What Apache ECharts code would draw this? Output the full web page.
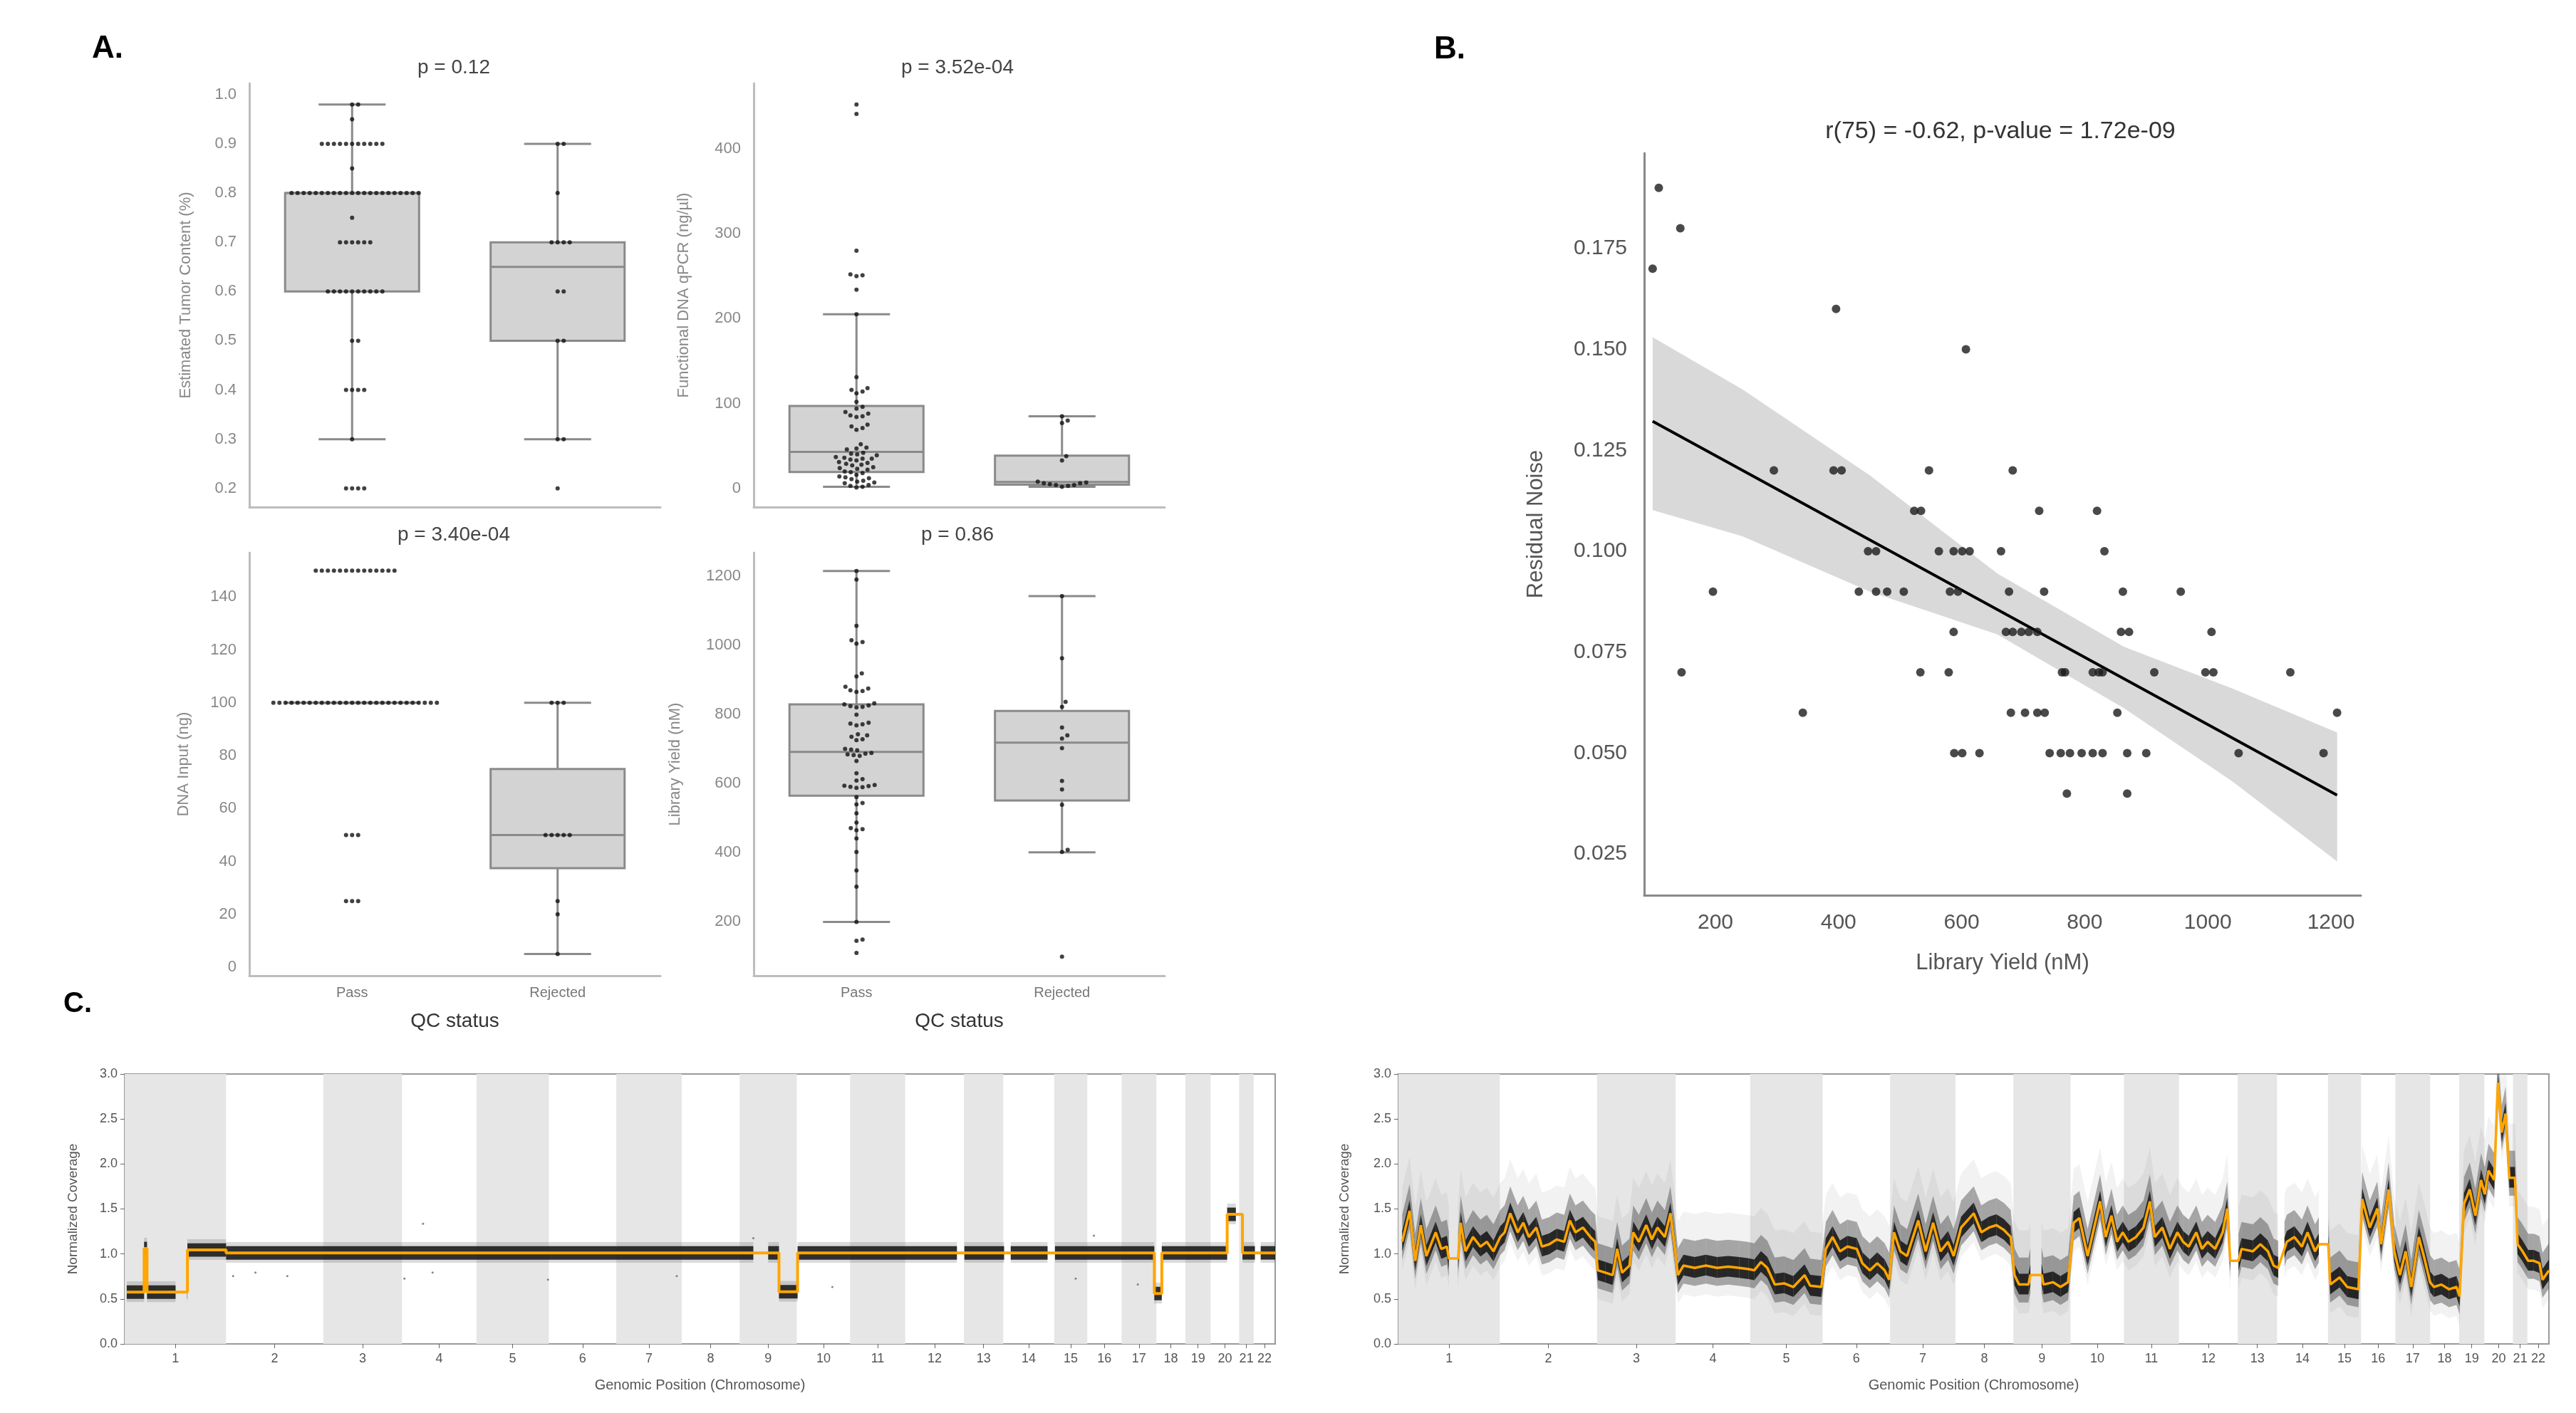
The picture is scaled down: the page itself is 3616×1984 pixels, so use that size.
<!DOCTYPE html>
<html>
<head>
<meta charset="utf-8">
<script src="https://cdn.jsdelivr.net/npm/echarts@6/dist/echarts.min.js"></script>
<style>
html, body { margin: 0; padding: 0; background: #fff; }
#main { width: 3616px; height: 1984px; }
</style>
</head>
<body>
<div id="main"></div>
<script>
var FONT = 'Liberation Sans, Arial, sans-serif';

// ---------- A. QC status box plots ----------
var groups = ['Pass', 'Rejected'];

var tumorPassLevels = [0.2, 0.3, 0.4, 0.5, 0.6, 0.7, 0.75, 0.8, 0.85, 0.9, 0.95, 0.98];
var tumorPassCounts = [4, 1, 4, 2, 10, 6, 1, 22, 1, 11, 1, 2];
var tumorRejLevels = [0.2, 0.3, 0.5, 0.6, 0.7, 0.8, 0.9];
var tumorRejCounts = [1, 2, 2, 2, 4, 1, 2];
var tumorBox = [[0.3, 0.6, 0.8, 0.8, 0.98], [0.3, 0.5, 0.65, 0.7, 0.9]];
var tumorTicks = [0.2, 0.3, 0.4, 0.5, 0.6, 0.7, 0.8, 0.9, 1.0];

var qpcrPass = [452, 441, 280, 252, 251, 250, 234, 205, 131, 118, 116, 114, 112, 102, 96, 94,
  90, 88, 86, 85, 84, 75, 73, 71, 69, 52, 48, 47, 46, 42, 41, 40, 39, 37, 36, 35, 35, 34, 33,
  31, 30, 29, 28, 27, 25, 24, 23, 22, 20, 19, 18, 16, 14, 13, 12, 11, 9, 8, 7, 6, 4, 3, 2, 1];
var qpcrRej = [85, 80, 77, 38, 33, 8, 7, 6, 6, 5, 4, 4, 3, 2];
var qpcrBox = [[2, 19.4, 43, 97, 205], [2, 4.5, 7.5, 38.5, 85]];
var qpcrTicks = [0, 100, 200, 300, 400];

var inputPassLevels = [25, 50, 100, 150];
var inputPassCounts = [3, 3, 28, 14];
var inputRej = [100, 100, 100, 50, 50, 50, 50, 50, 25, 20, 5];
var inputBox = [[100, 100, 100, 100, 100], [5, 37.5, 50, 75, 100]];
var inputTicks = [0, 20, 40, 60, 80, 100, 120, 140];

var yieldPass = [1216, 1191, 1057, 1015, 1010, 1005, 919, 910, 880, 875, 870, 868, 865, 832, 829,
  826, 824, 822, 820, 799, 776, 773, 771, 768, 742, 739, 735, 728, 725, 700, 698, 696, 688, 686,
  684, 682, 680, 665, 629, 612, 608, 595, 593, 592, 590, 589, 587, 560, 543, 539, 513, 486, 470,
  467, 464, 440, 401, 347, 300, 198, 147, 143, 108];
var yieldRej = [1143, 963, 836, 822, 762, 739, 730, 702, 607, 582, 538, 407, 401, 97];
var yieldBox = [[198, 564, 691, 829, 1216], [400, 550, 718, 810, 1143]];
var yieldTicks = [200, 400, 600, 800, 1000, 1200];

// ---------- B. residual noise vs library yield ----------
var noiseX = [108, 143, 98, 396, 607,
  295, 392, 405, 547, 683,
  523, 534, 726, 820,
  448, 461, 563, 587, 601, 613, 664, 832,
  196, 433, 461, 479, 506, 581, 594, 677, 734, 862, 956,
  587, 672, 683, 697, 709, 723, 859, 872, 1006,
  145, 533, 579, 763, 768, 813, 823, 829, 913, 996, 1009, 1134,
  342, 680, 703, 723, 735, 853, 1210,
  588, 601, 629, 743, 761, 776, 795, 813, 829, 869, 900, 1050, 1188,
  771, 869];
var noiseY = [0.19, 0.18, 0.17, 0.16, 0.15,
  0.12, 0.12, 0.12, 0.12, 0.12,
  0.11, 0.11, 0.11, 0.11,
  0.10, 0.10, 0.10, 0.10, 0.10, 0.10, 0.10, 0.10,
  0.09, 0.09, 0.09, 0.09, 0.09, 0.09, 0.09, 0.09, 0.09, 0.09, 0.09,
  0.08, 0.08, 0.08, 0.08, 0.08, 0.08, 0.08, 0.08, 0.08,
  0.07, 0.07, 0.07, 0.07, 0.07, 0.07, 0.07, 0.07, 0.07, 0.07, 0.07, 0.07,
  0.06, 0.06, 0.06, 0.06, 0.06, 0.06, 0.06,
  0.05, 0.05, 0.05, 0.05, 0.05, 0.05, 0.05, 0.05, 0.05, 0.05, 0.05, 0.05, 0.05,
  0.04, 0.04];
var fitX = [98, 1210];
var fitY = [0.1322, 0.0396];
var ciX = [98, 244, 451, 658, 864, 1040, 1210];
var ciLow = [0.1102, 0.1037, 0.0900, 0.0794, 0.0611, 0.0430, 0.0232];
var ciHigh = [0.1530, 0.1401, 0.1188, 0.0945, 0.0763, 0.0660, 0.0551];
var noiseTicks = [0.025, 0.05, 0.075, 0.1, 0.125, 0.15, 0.175];
var yieldTicksB = [200, 400, 600, 800, 1000, 1200];

// ---------- C. copy-number profiles ----------
var chromNames = ['1', '2', '3', '4', '5', '6', '7', '8', '9', '10', '11', '12', '13', '14', '15',
  '16', '17', '18', '19', '20', '21', '22'];
var chromLen = [245, 235, 190, 180, 175, 163, 158, 140, 138, 129, 133, 142, 95, 123, 80, 83, 84, 70,
  61, 69, 35, 52];

var leftCovX = [5, 47, 47, 54, 54, 151.6, 151.6, 245, 245, 1581, 1581, 1626, 1626, 2488, 2488, 2506,
  2506, 2664, 2664, 2701, 2701, 2780];
var leftCovY = [0.576, 0.576, 1.06, 1.06, 0.576, 0.576, 1.044, 1.044, 1.012, 1.012, 0.58, 0.58,
  1.012, 1.012, 0.56, 0.56, 1.012, 1.012, 1.44, 1.44, 1.012, 1.012];
var leftGaps = [[123, 151], [1519, 1555], [2011, 2029], [2125, 2141], [2230, 2248], [2685, 2701],
  [2731, 2745]];
var leftOutX = [262, 316, 393, 676, 721, 744, 1023, 1334, 1519, 1710, 2298, 2342, 2448];
var leftOutY = [0.753, 0.793, 0.753, 0.727, 1.335, 0.793, 0.714, 0.753, 1.176, 0.634, 0.727, 1.203, 0.661];

var rightCovX = [9.1, 27.1, 40.6, 54.1, 67.6, 90.1, 103.6, 117.1, 121.6, 144.2, 150.5, 162.2, 180.2,
  198.2, 213.5, 229.7, 245.9,
  256.7, 270.2, 288.2, 301.7, 315.2, 333.2, 346.7, 364.7, 382.7, 400.7, 414.2, 427.8, 445.8, 463.8, 475.5,
  481.8, 499.8, 517.8, 528.6, 540.3, 558.3, 567.3, 580.8, 598.8, 612.3, 625.8, 643.8, 657.3, 669.0,
  675.3, 688.8, 715.9, 742.9, 769.9, 796.9, 823.9, 846.4,
  859.9, 876.1, 891.4, 909.4, 931.9, 954.4, 981.4, 994.9, 1022.0,
  1032.8, 1049.0, 1067.0, 1085.0, 1107.5, 1121.0, 1139.0, 1157.0, 1175.0, 1185.8,
  1197.5, 1212.8, 1229.0, 1256.0, 1274.0, 1292.0, 1310.0, 1328.1, 1341.6,
  1359.6, 1390.2, 1408.5, 1426.8, 1444.9, 1463.1, 1479.5, 1488.6,
  1499.6, 1522.4, 1527.0, 1554.3, 1558.8, 1581.6, 1599.8, 1618.1,
  1631.7, 1645.4, 1665.4, 1695.5, 1709.2, 1722.9, 1736.5, 1750.2,
  1763.9, 1782.1, 1800.3, 1815.8, 1827.7, 1845.9, 1864.1, 1882.3,
  1896.0, 1909.7, 1927.9, 1941.6, 1955.2, 1973.5, 1991.7, 2002.6, 2009.9, 2030.0,
  2037.2, 2064.6, 2082.8, 2101.0, 2114.7, 2125.6,
  2146.6, 2164.8, 2183.1, 2196.7, 2214.9, 2224.1, 2246.8,
  2251.4, 2274.2, 2292.4, 2319.8,
  2328.9, 2347.1, 2365.3, 2374.4, 2392.7, 2406.3,
  2420.0, 2433.7, 2447.3, 2465.6, 2479.2, 2492.9,
  2502.0, 2520.2, 2538.5, 2556.7, 2564.0,
  2574.9, 2588.6, 2602.3, 2615.9, 2625.0,
  2634.1, 2647.8, 2656.9, 2666.0, 2675.2, 2684.3, 2697.9,
  2704.3, 2716.2, 2729.8,
  2743.5, 2757.2, 2764.5, 2780];
var rightCovY = [1.135, 1.478, 0.924, 1.320, 0.977, 1.240, 1.056, 1.082, 0.950, 0.950, 1.346, 1.029, 1.188,
  1.082, 1.135, 1.029, 1.188,
  1.240, 1.452, 1.240, 1.346, 1.188, 1.293, 1.082, 1.108, 1.161, 1.135, 1.372, 1.240, 1.293, 1.188, 1.135,
  0.818, 0.792, 0.765, 1.056, 0.792, 0.871, 1.240, 1.135, 1.320, 1.161, 1.293, 1.188, 1.452, 1.029,
  0.765, 0.871, 0.845, 0.871, 0.845, 0.858, 0.845, 0.831,
  0.818, 0.911, 0.845, 0.660, 0.673, 0.633, 0.765, 0.647, 0.633,
  1.056, 1.188, 1.029, 1.082, 1.056, 0.897, 0.818, 0.897, 0.818, 0.713,
  1.240, 1.029, 0.977, 1.372, 1.029, 1.346, 1.029, 1.135, 0.977,
  1.293, 1.452, 1.240, 1.293, 1.320, 1.267, 1.188, 0.765,
  0.660, 0.660, 0.765, 0.765, 0.660, 0.686, 0.633, 0.686,
  1.346, 1.399, 0.977, 1.584, 1.188, 1.425, 1.135, 1.240,
  1.135, 1.188, 1.293, 1.584, 1.188, 1.293, 1.056, 1.240,
  1.135, 1.082, 1.240, 1.056, 1.135, 1.056, 1.240, 1.504, 0.924, 0.924,
  1.056, 1.029, 1.108, 1.029, 0.871, 0.845,
  1.135, 1.188, 1.082, 1.240, 1.029, 1.108, 1.108,
  0.660, 0.739, 0.633, 0.607,
  1.610, 1.293, 1.504, 1.108, 1.716, 1.029,
  0.765, 1.029, 0.633, 1.188, 0.950, 0.686,
  0.633, 0.660, 0.607, 0.633, 0.528,
  1.557, 1.716, 1.425, 1.821, 1.663,
  1.927, 1.821, 2.903, 2.349, 2.560, 1.847, 1.847,
  1.108, 1.029, 0.924,
  0.924, 0.897, 0.713, 0.818];
var rightGaps = [[122, 144], [1527, 1554], [2010, 2030], [2126, 2141], [2224, 2247]];

// ---------- helpers ----------
function expand(levels, counts) {
  var out = [];
  levels.forEach(function (v, i) {
    for (var k = 0; k < counts[i]; k++) out.push(v);
  });
  return out;
}

// simple beeswarm: place each dot at the smallest horizontal offset that does not overlap
function swarm(values, center, yMin, yMax, hPx, wPx, gap) {
  var pxY = hPx / (yMax - yMin);
  var pxX = wPx / 2;
  var placed = [];
  var out = [];
  values.slice().sort(function (a, b) { return a - b; }).forEach(function (v) {
    var py = v * pxY;
    var off = 0;
    for (var s = 0; s < 600; s += 0.5) {
      var cands = s === 0 ? [0] : [s, -s];
      var hit = null;
      for (var c = 0; c < cands.length; c++) {
        var ok = placed.every(function (p) {
          var dx = p[0] - cands[c], dy = p[1] - py;
          return dx * dx + dy * dy >= gap * gap;
        });
        if (ok) { hit = cands[c]; break; }
      }
      if (hit !== null) { off = hit; break; }
    }
    placed.push([off, py]);
    out.push([center + off / pxX, v]);
  });
  return out;
}

var aGrids = [
  { left: 350, top: 117, width: 577, height: 595 },
  { left: 1058, top: 117, width: 577, height: 595 },
  { left: 350, top: 776, width: 577, height: 594 },
  { left: 1058, top: 776, width: 577, height: 594 }
];
var aRanges = [[0.162, 1.023], [-22, 477], [-3.2, 156.8], [42, 1269]];
var aTicks = [tumorTicks, qpcrTicks, inputTicks, yieldTicks];
var aNames = ['Estimated Tumor Content (%)', 'Functional DNA qPCR (ng/µl)', 'DNA Input (ng)', 'Library Yield (nM)'];
var aNameGaps = [78, 87, 81, 99];
var aBoxes = [tumorBox, qpcrBox, inputBox, yieldBox];
var aPoints = [
  [expand(tumorPassLevels, tumorPassCounts), expand(tumorRejLevels, tumorRejCounts)],
  [qpcrPass, qpcrRej],
  [expand(inputPassLevels, inputPassCounts), inputRej],
  [yieldPass, yieldRej]
];

function boxRender(params, api) {
  var x = api.value(0);
  var lo = api.coord([x, api.value(1)]);
  var q1 = api.coord([x, api.value(2)]);
  var md = api.coord([x, api.value(3)]);
  var q3 = api.coord([x, api.value(4)]);
  var hi = api.coord([x, api.value(5)]);
  var cx = lo[0];
  var hw = api.size([1, 0])[0] * 0.326;
  var lineStyle = { stroke: '#8a8a8a', lineWidth: 3 };
  return {
    type: 'group',
    children: [
      { type: 'line', shape: { x1: cx, y1: lo[1], x2: cx, y2: q1[1] }, style: lineStyle },
      { type: 'line', shape: { x1: cx, y1: q3[1], x2: cx, y2: hi[1] }, style: lineStyle },
      { type: 'line', shape: { x1: cx - hw / 2, y1: lo[1], x2: cx + hw / 2, y2: lo[1] }, style: lineStyle },
      { type: 'line', shape: { x1: cx - hw / 2, y1: hi[1], x2: cx + hw / 2, y2: hi[1] }, style: lineStyle },
      { type: 'rect', shape: { x: cx - hw, y: q3[1], width: hw * 2, height: q1[1] - q3[1] },
        style: { fill: '#d3d3d3', stroke: '#8a8a8a', lineWidth: 3 } },
      { type: 'line', shape: { x1: cx - hw, y1: md[1], x2: cx + hw, y2: md[1] }, style: lineStyle }
    ]
  };
}

function cloudSeries(idx, xs, ys, gaps, up, down, color, opacity, z) {
  return {
    type: 'custom', xAxisIndex: idx, yAxisIndex: idx, z: z, silent: true, clip: true,
    data: xs.map(function (x, i) { return [x, ys[i]]; }),
    encode: { x: 0, y: 1 },
    renderItem: function (params, api) {
      var i = params.dataIndex;
      if (i >= xs.length - 1) return null;
      var x0 = xs[i], x1 = xs[i + 1], y0 = ys[i], y1 = ys[i + 1];
      if (x1 <= x0) return null;
      var parts = [[x0, x1]];
      gaps.forEach(function (g) {
        var next = [];
        parts.forEach(function (p) {
          if (g[1] <= p[0] || g[0] >= p[1]) { next.push(p); return; }
          if (g[0] > p[0]) next.push([p[0], g[0]]);
          if (g[1] < p[1]) next.push([g[1], p[1]]);
        });
        parts = next;
      });
      var yAt = function (x) { return y0 + (y1 - y0) * (x - x0) / (x1 - x0); };
      return {
        type: 'group',
        children: parts.map(function (p) {
          return {
            type: 'polygon',
            shape: { points: [api.coord([p[0], yAt(p[0]) + up]), api.coord([p[1], yAt(p[1]) + up]),
              api.coord([p[1], yAt(p[1]) - down]), api.coord([p[0], yAt(p[0]) - down])] },
            style: { fill: color, opacity: opacity }
          };
        })
      };
    }
  };
}

var chromStarts = [];
var chromCenters = [];
var acc = 0;
chromLen.forEach(function (len) {
  chromStarts.push(acc);
  chromCenters.push(acc + len / 2);
  acc += len;
});
var genomeLen = acc;
var oddChrom = chromStarts.filter(function (s, i) { return i % 2 === 0; })
  .map(function (s, k) { return [s, s + chromLen[k * 2]]; });

function chromLabel(v) {
  var best = 0;
  chromCenters.forEach(function (c, i) {
    if (Math.abs(c - v) < Math.abs(chromCenters[best] - v)) best = i;
  });
  return chromNames[best];
}

// ---------- build option ----------
var grid = [];
var xAxis = [];
var yAxis = [];
var series = [];

aGrids.forEach(function (g, i) {
  grid.push(g);
  var bottomRow = i >= 2;
  xAxis.push({
    type: 'value', gridIndex: i, min: -0.5, max: 1.5,
    axisLine: { show: true, onZero: false, lineStyle: { color: '#bdbdbd', width: 3 } },
    axisTick: { show: false }, splitLine: { show: false },
    axisLabel: bottomRow ? {
      customValues: [0, 1], formatter: function (v) { return groups[Math.round(v)]; },
      color: '#777', fontSize: 20, fontFamily: FONT, margin: 14
    } : { show: false },
    name: bottomRow ? 'QC status' : '', nameLocation: 'middle', nameGap: 50,
    nameTextStyle: { color: '#333', fontSize: 28, fontFamily: FONT }
  });
  yAxis.push({
    type: 'value', gridIndex: i, min: aRanges[i][0], max: aRanges[i][1],
    axisLine: { show: true, onZero: false, lineStyle: { color: '#bdbdbd', width: 3 } },
    axisTick: { show: false }, splitLine: { show: false },
    axisLabel: {
      customValues: aTicks[i],
      formatter: i === 0 ? function (v) { return v.toFixed(1); } : function (v) { return String(Math.round(v)); },
      color: '#888', fontSize: 22, fontFamily: FONT, margin: 18
    },
    name: aNames[i], nameLocation: 'middle', nameGap: aNameGaps[i],
    nameTextStyle: { color: '#888', fontSize: 22, fontFamily: FONT }
  });
  series.push({
    type: 'custom', xAxisIndex: i, yAxisIndex: i, z: 2, silent: true,
    data: aBoxes[i].map(function (b, k) { return [k].concat(b); }),
    encode: { x: 0, y: [1, 2, 3, 4, 5] },
    renderItem: boxRender
  });
  var pts = [];
  aPoints[i].forEach(function (vals, k) {
    pts = pts.concat(swarm(vals, k, aRanges[i][0], aRanges[i][1], g.height, g.width, 8.4));
  });
  series.push({
    type: 'scatter', xAxisIndex: i, yAxisIndex: i, z: 4, silent: true,
    symbolSize: 6, itemStyle: { color: '#111' }, data: pts
  });
});

// B
grid.push({ left: 2308, top: 215, width: 1006, height: 1042 });
xAxis.push({
  type: 'value', gridIndex: 4, min: 84.3, max: 1248.6,
  axisLine: { show: true, onZero: false, lineStyle: { color: '#888', width: 3 } },
  axisTick: { show: false }, splitLine: { show: false },
  axisLabel: { customValues: yieldTicksB, formatter: function (v) { return String(Math.round(v)); },
    color: '#555', fontSize: 30, fontFamily: FONT, margin: 24 },
  name: 'Library Yield (nM)', nameLocation: 'middle', nameGap: 80,
  nameTextStyle: { color: '#555', fontSize: 31, fontFamily: FONT }
});
yAxis.push({
  type: 'value', gridIndex: 4, min: 0.0148, max: 0.1986,
  axisLine: { show: true, onZero: false, lineStyle: { color: '#888', width: 3 } },
  axisTick: { show: false }, splitLine: { show: false },
  axisLabel: { customValues: noiseTicks, formatter: function (v) { return v.toFixed(3); },
    color: '#555', fontSize: 30, fontFamily: FONT, margin: 24 },
  name: 'Residual Noise', nameLocation: 'middle', nameGap: 136,
  nameTextStyle: { color: '#555', fontSize: 31, fontFamily: FONT }
});
series.push({
  type: 'custom', xAxisIndex: 4, yAxisIndex: 4, z: 1, silent: true,
  data: [[ciX[0], ciLow[0]]], encode: { x: 0, y: 1 },
  renderItem: function (params, api) {
    var pts = [];
    ciX.forEach(function (x, i) { pts.push(api.coord([x, ciHigh[i]])); });
    for (var i = ciX.length - 1; i >= 0; i--) pts.push(api.coord([ciX[i], ciLow[i]]));
    return { type: 'polygon', shape: { points: pts }, style: { fill: '#d9d9d9' } };
  }
});
series.push({
  type: 'line', xAxisIndex: 4, yAxisIndex: 4, z: 3, silent: true, showSymbol: false,
  data: fitX.map(function (x, i) { return [x, fitY[i]]; }),
  lineStyle: { color: '#000', width: 4 }
});
series.push({
  type: 'scatter', xAxisIndex: 4, yAxisIndex: 4, z: 4, silent: true, symbolSize: 12,
  itemStyle: { color: '#1c1c1c' },
  data: noiseX.map(function (x, i) { return [x, noiseY[i]]; })
});

// C
var cGrids = [
  { left: 175, top: 1508, width: 1615, height: 379 },
  { left: 1963, top: 1508, width: 1615, height: 379 }
];
var cNameGaps = [63, 66];
cGrids.forEach(function (g, k) {
  var idx = 5 + k;
  grid.push(Object.assign({ show: true, borderColor: '#9a9a9a', borderWidth: 2 }, g));
  xAxis.push({
    type: 'value', gridIndex: idx, min: 0, max: genomeLen,
    axisLine: { show: true, onZero: false, lineStyle: { color: '#9a9a9a', width: 2 } },
    axisTick: { show: true, customValues: chromCenters, length: 6, lineStyle: { color: '#666' } },
    splitLine: { show: false },
    axisLabel: { customValues: chromCenters, formatter: chromLabel, color: '#555', fontSize: 18,
      fontFamily: FONT, margin: 12 },
    name: 'Genomic Position (Chromosome)', nameLocation: 'middle', nameGap: 48,
    nameTextStyle: { color: '#555', fontSize: 20, fontFamily: FONT }
  });
  yAxis.push({
    type: 'value', gridIndex: idx, min: 0, max: 3, interval: 0.5,
    axisLine: { show: true, onZero: false, lineStyle: { color: '#9a9a9a', width: 2 } },
    axisTick: { show: true, length: 6, lineStyle: { color: '#666' } },
    splitLine: { show: false },
    axisLabel: { formatter: function (v) { return v.toFixed(1); }, color: '#555', fontSize: 18,
      fontFamily: FONT, margin: 10 },
    name: 'Normalized Coverage', nameLocation: 'middle', nameGap: cNameGaps[k],
    nameTextStyle: { color: '#555', fontSize: 19, fontFamily: FONT }
  });
  series.push({
    type: 'custom', xAxisIndex: idx, yAxisIndex: idx, z: 1, silent: true,
    data: oddChrom, encode: { x: [0, 1] },
    renderItem: function (params, api) {
      var cs = params.coordSys;
      var a = api.coord([api.value(0), 0]);
      var b = api.coord([api.value(1), 0]);
      return { type: 'rect', shape: { x: a[0], y: cs.y, width: b[0] - a[0], height: cs.height },
        style: { fill: '#e6e6e6' } };
    }
  });
});

// left profile: tight cloud
series.push(cloudSeries(5, leftCovX, leftCovY, leftGaps, 0.12, 0.11, '#555', 0.22, 2));
series.push(cloudSeries(5, leftCovX, leftCovY, leftGaps, 0.075, 0.075, '#111', 0.85, 3));
series.push({
  type: 'scatter', xAxisIndex: 5, yAxisIndex: 5, z: 3, silent: true, symbolSize: 3,
  itemStyle: { color: '#666' },
  data: leftOutX.map(function (x, i) { return [x, leftOutY[i]]; })
});
series.push({
  type: 'line', xAxisIndex: 5, yAxisIndex: 5, z: 5, silent: true, showSymbol: false,
  data: leftCovX.map(function (x, i) { return [x, leftCovY[i]]; }),
  lineStyle: { color: '#ffa500', width: 4 }
});

// right profile: noisy cloud
series.push(cloudSeries(6, rightCovX, rightCovY, rightGaps, 0.6, 0.32, '#555', 0.08, 2));
series.push(cloudSeries(6, rightCovX, rightCovY, rightGaps, 0.3, 0.2, '#333', 0.4, 3));
series.push(cloudSeries(6, rightCovX, rightCovY, rightGaps, 0.12, 0.11, '#111', 0.85, 4));
series.push({
  type: 'line', xAxisIndex: 6, yAxisIndex: 6, z: 5, silent: true, showSymbol: false,
  data: rightCovX.map(function (x, i) { return [x, rightCovY[i]]; }),
  lineStyle: { color: '#ffa500', width: 3.5 }
});

function label(text, x, y, size, color, weight, align) {
  return {
    type: 'text', x: x, y: y, silent: true,
    style: { text: text, fill: color, font: (weight || 'normal') + ' ' + size + 'px ' + FONT,
      align: align || 'center', verticalAlign: 'middle' }
  };
}

var graphic = [
  label('A.', 129, 69, 44, '#000', 'bold', 'left'),
  label('B.', 2013, 70, 44, '#000', 'bold', 'left'),
  label('C.', 89, 1410, 40, '#000', 'bold', 'left'),
  label('p = 0.12', 637, 95, 28, '#444'),
  label('p = 3.52e-04', 1344, 95, 28, '#444'),
  label('p = 3.40e-04', 637, 751, 28, '#444'),
  label('p = 0.86', 1344, 751, 28, '#444'),
  label('r(75) = -0.62, p-value = 1.72e-09', 2808, 185, 34, '#333')
];

var myChart = echarts.init(document.getElementById('main'));
myChart.setOption({
  animation: false,
  backgroundColor: '#fff',
  grid: grid,
  xAxis: xAxis,
  yAxis: yAxis,
  series: series,
  graphic: graphic
});
</script>
</body>
</html>
